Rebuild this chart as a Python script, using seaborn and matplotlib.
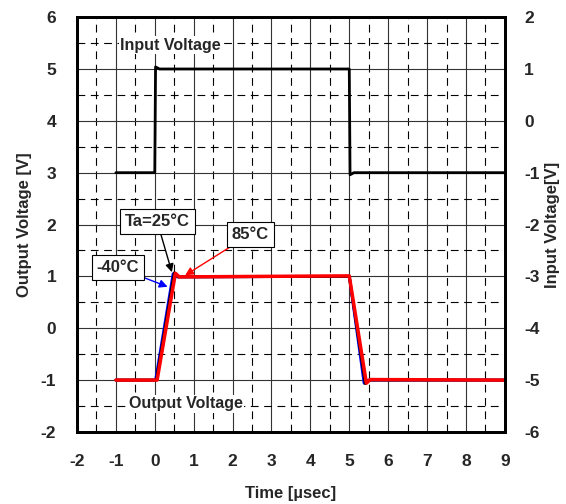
import matplotlib
matplotlib.use("Agg")
import matplotlib.pyplot as plt
import seaborn as sns
import numpy as np

# ── data ──────────────────────────────────────────────────────────────────────
t_in = [-1.0, 0.0, 0.02, 0.12, 5.0, 5.02, 5.12, 9.0]
v_in = [-1.0, -1.0, 1.04, 1.0, 1.0, -1.04, -1.0, -1.0]

t_m40 = [-1.0, 0.02, 0.47, 0.57, 5.0, 5.38, 5.48, 9.0]
v_m40 = [-1.0, -1.0, 1.05, 0.99, 1.0, -1.06, -1.0, -1.0]
t_25 = [-1.0, 0.04, 0.50, 0.60, 5.0, 5.41, 5.51, 9.0]
v_25 = [-1.0, -1.0, 1.07, 0.99, 1.0, -1.07, -1.0, -1.0]
t_85 = [-1.0, 0.06, 0.53, 0.63, 5.0, 5.44, 5.54, 9.0]
v_85 = [-1.0, -1.0, 1.06, 0.99, 1.01, -1.06, -0.99, -1.0]

x_ticks = list(range(-2, 10))
left_ticks = list(range(-2, 7))
right_ticks = list(range(-6, 3))

# ── style ─────────────────────────────────────────────────────────────────────
sns.set_style("white")
plt.rcParams["font.family"] = ["Liberation Sans", "DejaVu Sans"]
plt.rcParams["font.weight"] = "bold"
plt.rcParams["axes.unicode_minus"] = False

fig = plt.figure(figsize=(5.66, 5.04), dpi=100)
ax = fig.add_axes([0.136, 0.143, 0.756, 0.823])
ax2 = ax.twinx()

ax.set_xlim(-2, 9)
ax.set_ylim(-2, 6)
ax2.set_ylim(-6, 2)

ax.set_xticks(x_ticks)
ax.set_yticks(left_ticks)
ax2.set_yticks(right_ticks)
ax.set_xticks(np.arange(-1.5, 9, 1.0), minor=True)
ax.set_yticks(np.arange(-1.5, 6, 1.0), minor=True)
ax.grid(which="major", color="#333333", linestyle="-", linewidth=0.8)
ax.grid(which="minor", color="black", linestyle=(0, (7, 5)), linewidth=0.8)
ax.tick_params(which="both", length=0, labelsize=12.5)
ax.tick_params(axis="y", pad=15)
ax.tick_params(axis="x", pad=16)
ax2.tick_params(which="both", length=0, labelsize=12.5, pad=14)
for a in (ax, ax2):
    for s in a.spines.values():
        s.set_linewidth(2)
        s.set_color("black")
    for lbl in a.get_xticklabels() + a.get_yticklabels():
        lbl.set_fontweight("bold")

# ── lines ─────────────────────────────────────────────────────────────────────
sns.lineplot(x=t_m40, y=v_m40, ax=ax, color="blue", linewidth=2, sort=False, estimator=None)
sns.lineplot(x=t_25, y=v_25, ax=ax, color="black", linewidth=2, sort=False, estimator=None)
sns.lineplot(x=t_85, y=v_85, ax=ax, color="red", linewidth=2.5, sort=False, estimator=None)
sns.lineplot(x=t_in, y=v_in, ax=ax2, color="black", linewidth=2, sort=False, estimator=None)

ax.set_xlabel("Time [µsec]", fontsize=12, fontweight="bold", labelpad=12)
ax.set_ylabel("Output Voltage [V]", fontsize=12, fontweight="bold", labelpad=6)
ax2.set_ylabel("Input Voltage[V]", fontsize=12, fontweight="bold", labelpad=4)

# ── annotations ───────────────────────────────────────────────────────────────
ax.text(0.4, 5.46, "Input Voltage", ha="center", va="center", fontsize=11.5,
        fontweight="bold", bbox=dict(facecolor="white", edgecolor="none", pad=1))
ax.text(0.8, -1.46, "Output Voltage", ha="center", va="center", fontsize=11.5,
        fontweight="bold", bbox=dict(facecolor="white", edgecolor="none", pad=1))

box = dict(boxstyle="square,pad=0.3", facecolor="white", edgecolor="black", linewidth=0.8)
ax.annotate("Ta=25°C", xy=(0.44, 1.08), xytext=(0.06, 2.06), ha="center", va="center",
            fontsize=12, fontweight="bold", bbox=box,
            arrowprops=dict(arrowstyle="-|>", color="black", lw=1, shrinkA=0, shrinkB=0))
ax.annotate("85°C", xy=(0.78, 1.02), xytext=(2.45, 1.81), ha="center", va="center",
            fontsize=12, fontweight="bold", bbox=box,
            arrowprops=dict(arrowstyle="-|>", color="red", lw=1, shrinkA=0, shrinkB=0))
ax.annotate("-40°C", xy=(0.33, 0.8), xytext=(-0.95, 1.17), ha="center", va="center",
            fontsize=12, fontweight="bold", bbox=box,
            arrowprops=dict(arrowstyle="-|>", color="blue", lw=1, shrinkA=0, shrinkB=0))

plt.savefig("out.png", dpi=100)
plt.close()
